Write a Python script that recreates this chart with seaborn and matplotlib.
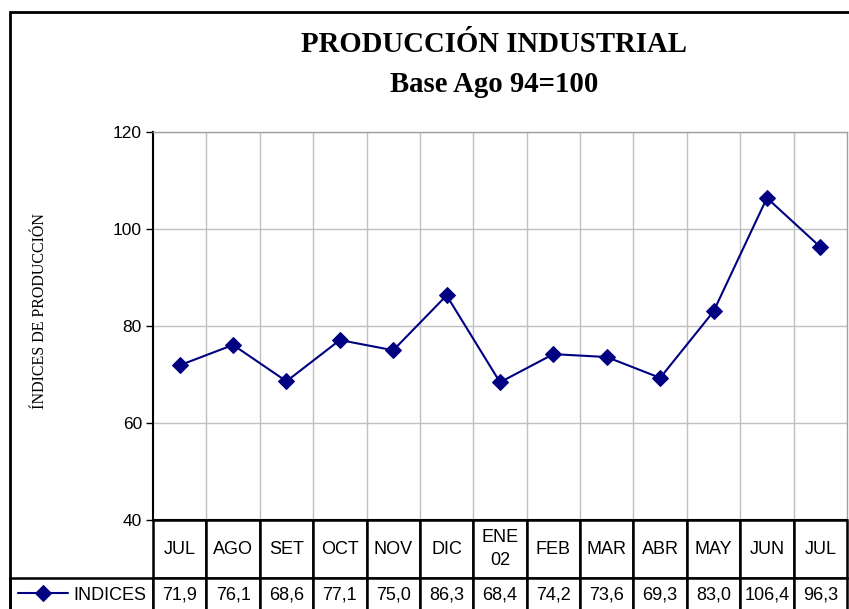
import matplotlib
matplotlib.use('Agg')
import pandas as pd
import matplotlib.pyplot as plt
import seaborn as sns
from matplotlib.table import Table
from matplotlib.patches import Rectangle

meses = ['JUL', 'AGO', 'SET', 'OCT', 'NOV', 'DIC', 'ENE\n02', 'FEB', 'MAR', 'ABR', 'MAY', 'JUN', 'JUL']
indices = [71.9, 76.1, 68.6, 77.1, 75.0, 86.3, 68.4, 74.2, 73.6, 69.3, 83.0, 106.4, 96.3]
yticks = [40, 60, 80, 100, 120]

df = pd.DataFrame({'pos': range(len(meses)), 'INDICES': indices})

sns.set_style('white')
plt.rcParams['font.family'] = ['Liberation Sans', 'DejaVu Sans']
plt.rcParams['text.color'] = 'black'
plt.rcParams['ytick.labelcolor'] = 'black'

W, H = 849, 609
fig = plt.figure(figsize=(W / 100, H / 100), dpi=100)
ax = fig.add_axes([153 / W, 1 - 520 / H, 694 / W, 388 / H])

sns.lineplot(data=df, x='pos', y='INDICES', color='#000080', marker='D',
             markersize=8.5, linewidth=1.5, markeredgecolor='#000080',
             label='INDICES', ax=ax)

ax.set_xlim(-0.5, len(meses) - 0.5)
ax.set_ylim(40, 120)
ax.set_yticks(yticks)
ax.set_xticks([i + 0.5 for i in range(len(meses) - 1)])
ax.tick_params(axis='x', length=0, labelbottom=False)
ax.tick_params(axis='y', length=5, width=1, direction='out', color='black',
               labelsize=12.5, pad=3, left=True, labelcolor='black')
ax.grid(True, color='#c0c0c0', linewidth=1)
ax.set_xlabel('')
ax.set_ylabel('')
for side in ['top', 'right']:
    ax.spines[side].set_color('#a0a0a0')
    ax.spines[side].set_linewidth(1)
for side in ['left', 'bottom']:
    ax.spines[side].set_color('black')
    ax.spines[side].set_linewidth(1.5)

# data table under the chart (axes units)
ax_w, ax_h = 694, 388
col_w = 1 / len(meses)
lab_w = 143 / ax_w
h_head, h_val = 58 / ax_h, 34 / ax_h
tab = Table(ax, loc='bottom')
for j, m in enumerate(meses):
    tab.add_cell(0, j, width=col_w, height=h_head, text=m, loc='center')
    tab.add_cell(1, j, width=col_w, height=h_val,
                 text=f'{indices[j]:.1f}'.replace('.', ','), loc='center')
blank = tab.add_cell(0, -1, width=lab_w, height=h_head, text='')
blank.visible_edges = ''
tab.add_cell(1, -1, width=lab_w, height=h_val, text='')
tab.auto_set_font_size(False)
tab.set_fontsize(13)
for cell in tab.get_celld().values():
    cell.set_edgecolor('black')
    cell.set_linewidth(1.8)
    cell.PAD = 0.02
    cell.get_text().set_color('black')
    cell.get_text().set_linespacing(1.45)
ax.add_table(tab)

ax.legend(loc='center left', bbox_to_anchor=((18 - 153) / ax_w, (520 - 595) / ax_h),
          frameon=False, fontsize=13, handlelength=2.75, handletextpad=0.3,
          borderpad=0, borderaxespad=0)

fig.text(494 / W, 1 - 45 / H, 'PRODUCCIÓN INDUSTRIAL', ha='center', va='center',
         family='Liberation Serif', fontweight='bold', fontsize=20.7)
fig.text(494 / W, 1 - 85 / H, 'Base Ago 94=100', ha='center', va='center',
         family='Liberation Serif', fontweight='bold', fontsize=20.7)
fig.text(40 / W, 1 - 311 / H, 'ÍNDICES DE PRODUCCIÓN', ha='center', va='center',
         rotation=90, family='Liberation Serif', fontsize=11.5)

fig.add_artist(Rectangle((10 / W, -0.1), 1.2, 1.1 - 12 / H, transform=fig.transFigure,
                         fill=False, edgecolor='black', linewidth=2))

fig.savefig('out.png', dpi=100)
